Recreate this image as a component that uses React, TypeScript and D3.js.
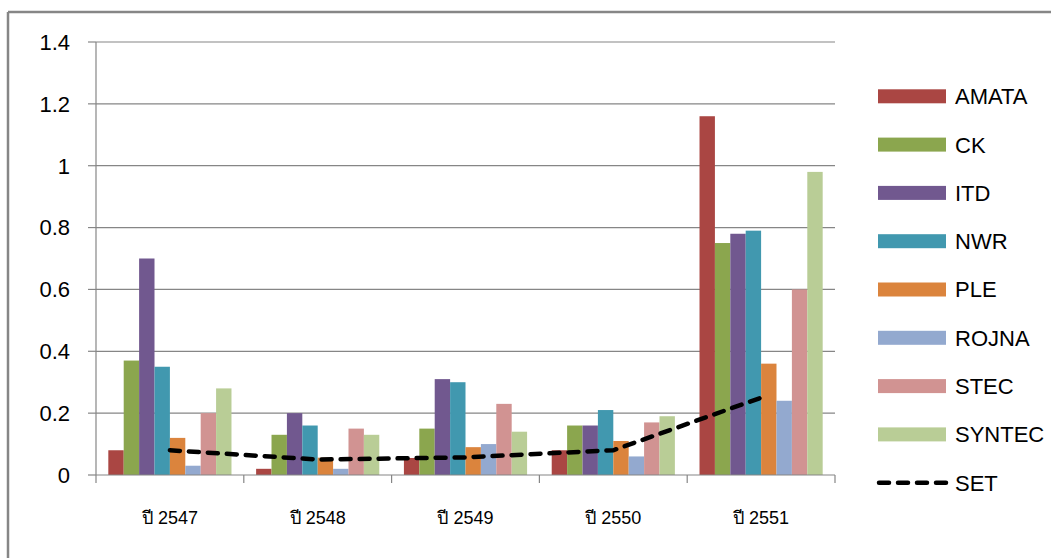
import React from "react";
import * as d3 from "d3";

const categories = ["ปี 2547", "ปี 2548", "ปี 2549", "ปี 2550", "ปี 2551"];
const seriesNames = ["AMATA", "CK", "ITD", "NWR", "PLE", "ROJNA", "STEC", "SYNTEC"];
const seriesColors = ["#AA4643", "#8BA64E", "#71588F", "#4198AF", "#DB843D", "#93A9CF", "#D19392", "#B9CD96"];
const AMATA = [0.08, 0.02, 0.055, 0.08, 1.16];
const CK = [0.37, 0.13, 0.15, 0.16, 0.75];
const ITD = [0.7, 0.2, 0.31, 0.16, 0.78];
const NWR = [0.35, 0.16, 0.3, 0.21, 0.79];
const PLE = [0.12, 0.056, 0.09, 0.11, 0.36];
const ROJNA = [0.03, 0.02, 0.1, 0.06, 0.24];
const STEC = [0.2, 0.15, 0.23, 0.17, 0.6];
const SYNTEC = [0.28, 0.13, 0.14, 0.19, 0.98];
const SET = [0.08, 0.05, 0.057, 0.08, 0.25];
const yTicks = [0, 0.2, 0.4, 0.6, 0.8, 1, 1.2, 1.4];

const seriesValues = [AMATA, CK, ITD, NWR, PLE, ROJNA, STEC, SYNTEC];

export default function App() {
  const W = 1051, H = 558;
  const left = 96, right = 835, top = 42, bottom = 475;
  const x = d3.scaleBand<string>().domain(categories).range([left, right]).paddingInner(0).paddingOuter(0);
  const xs = d3.scaleBand<string>().domain(seriesNames).range([0, x.bandwidth()]).paddingInner(0).paddingOuter(0.8);
  const y = d3.scaleLinear().domain([0, 1.4]).range([bottom, top]);
  const line = d3.line<number>()
    .x((_, i) => (x(categories[i]) as number) + x.bandwidth() / 2)
    .y((d) => y(d));
  const font = "'Liberation Sans', 'Noto Sans', sans-serif";
  const grid = "#868686";
  const boundaries = [...categories.map((c) => x(c) as number), right];

  return (
    <svg width={W} height={H} style={{ position: "absolute", left: 0, top: 0 }} fontFamily={font}>
      <rect x={0} y={0} width={W} height={H} fill="#fff" />
      {/* outer frame */}
      <line x1={8} y1={12} x2={W} y2={12} stroke={grid} strokeWidth={2.5} />
      <line x1={8} y1={12} x2={8} y2={H} stroke={grid} strokeWidth={2.5} />
      {/* gridlines */}
      {yTicks.map((t) => (
        <g key={t}>
          {t > 0 && <line x1={left} x2={right} y1={y(t)} y2={y(t)} stroke={grid} strokeWidth={1.2} />}
          <line x1={left - 8} x2={left} y1={y(t)} y2={y(t)} stroke={grid} strokeWidth={1.2} />
          <text x={70} y={y(t)} dy="0.36em" textAnchor="end" fontSize={22} fill="#000">{d3.format("")(t)}</text>
        </g>
      ))}
      {/* bars */}
      {categories.map((c, ci) => (
        <g key={c}>
          {seriesNames.map((s, si) => (
            <rect key={s}
              x={(x(c) as number) + (xs(s) as number)}
              y={y(seriesValues[si][ci])}
              width={xs.bandwidth()}
              height={bottom - y(seriesValues[si][ci])}
              fill={seriesColors[si]} />
          ))}
        </g>
      ))}
      {/* axes */}
      <line x1={left} x2={left} y1={top} y2={bottom} stroke={grid} strokeWidth={1.2} />
      <line x1={left} x2={right} y1={bottom} y2={bottom} stroke={grid} strokeWidth={1.2} />
      {boundaries.map((b, i) => (
        <line key={i} x1={b} x2={b} y1={bottom} y2={bottom + 8} stroke={grid} strokeWidth={1.2} />
      ))}
      {categories.map((c) => (
        <text key={c} x={(x(c) as number) + x.bandwidth() / 2} y={524} textAnchor="middle" fontSize={18} fill="#000">{c}</text>
      ))}
      {/* SET line */}
      <path d={line(SET) || ""} fill="none" stroke="#000" strokeWidth={4.5} strokeDasharray="10 9" strokeLinecap="round" />
      {/* legend */}
      {seriesNames.map((s, i) => {
        const cy = 96.3 + i * 48.3;
        return (
          <g key={s}>
            <rect x={878} y={cy - 7} width={68} height={14} fill={seriesColors[i]} />
            <text x={955} y={cy} dy="0.36em" fontSize={22} fill="#000">{s}</text>
          </g>
        );
      })}
      <g>
        <line x1={879} x2={946} y1={96.3 + 8 * 48.3} y2={96.3 + 8 * 48.3} stroke="#000" strokeWidth={4.5} strokeDasharray="10 9" strokeLinecap="round" />
        <text x={955} y={96.3 + 8 * 48.3} dy="0.36em" fontSize={22} fill="#000">SET</text>
      </g>
    </svg>
  );
}
